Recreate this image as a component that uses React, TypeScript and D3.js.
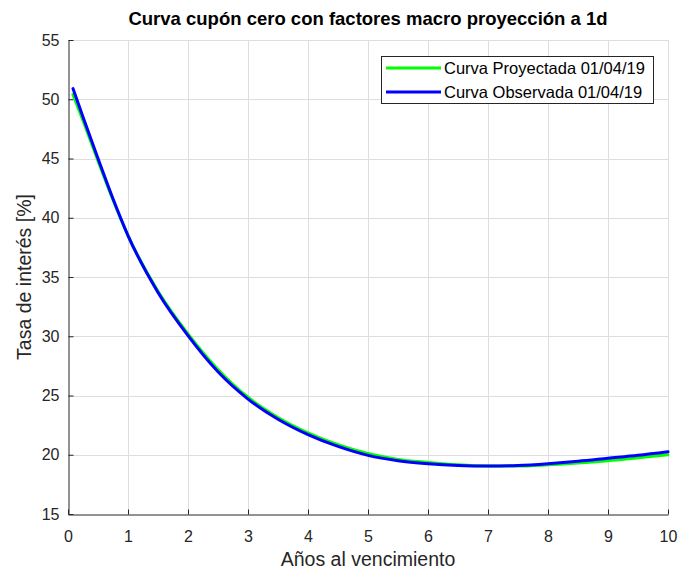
import React, { useEffect, useRef } from "react";
import * as d3 from "d3";

// Zero-coupon curves
const maturities = [0.083, 0.25, 0.5, 0.75, 1, 1.5, 2, 2.5, 3, 3.5, 4, 4.5, 5, 5.5, 6, 6.5, 7, 7.5, 8, 8.5, 9, 9.5, 10];
const projected = [50.4, 48.2, 44.8, 41.5, 38.5, 33.8, 30.2, 27.2, 24.85, 23.15, 21.85, 20.85, 20.1, 19.6, 19.35, 19.15, 19.05, 19.05, 19.15, 19.3, 19.5, 19.75, 20.0];
const observed = [50.9, 48.5, 45.0, 41.6, 38.5, 33.7, 30.05, 27.0, 24.7, 23.0, 21.7, 20.7, 19.95, 19.5, 19.25, 19.1, 19.05, 19.1, 19.25, 19.45, 19.7, 19.95, 20.25];

const seriesNames = ["Curva Proyectada 01/04/19", "Curva Observada 01/04/19"];
const seriesColors = ["#00ff00", "#0000ff"];
const xTicks = [0, 1, 2, 3, 4, 5, 6, 7, 8, 9, 10];
const yTicks = [15, 20, 25, 30, 35, 40, 45, 50, 55];

const title = "Curva cupón cero con factores macro proyección a 1d";
const xLabel = "Años al vencimiento";
const yLabel = "Tasa de interés [%]";

const App = () => {
  const ref = useRef<SVGSVGElement>(null);

  useEffect(() => {
    const width = 680;
    const height = 569;
    const marginTop = 40;
    const marginRight = 12;
    const marginBottom = 55;
    const marginLeft = 68;
    const font = "'Liberation Sans', Arial, sans-serif";
    const axisColor = "#262626";

    const x = d3.scaleLinear().domain([0, 10]).range([marginLeft, width - marginRight]);
    const y = d3.scaleLinear().domain([15, 55]).range([height - marginBottom, marginTop]);

    const svg = d3.select(ref.current);
    svg.selectAll("*").remove(); // Clear previous render

    svg.append("rect").attr("width", width).attr("height", height).attr("fill", "#fff");

    // grid
    const grid = svg.append("g").attr("stroke", "#dedede").attr("stroke-width", 1);
    grid
      .selectAll("line.v")
      .data(xTicks.slice(1))
      .join("line")
      .attr("x1", (d) => Math.round(x(d)) + 0.5)
      .attr("x2", (d) => Math.round(x(d)) + 0.5)
      .attr("y1", marginTop)
      .attr("y2", height - marginBottom);
    grid
      .selectAll("line.h")
      .data(yTicks.slice(1))
      .join("line")
      .attr("y1", (d) => Math.round(y(d)) + 0.5)
      .attr("y2", (d) => Math.round(y(d)) + 0.5)
      .attr("x1", marginLeft)
      .attr("x2", width - marginRight);

    // x-axis (ticks pointing inward)
    svg
      .append("g")
      .attr("transform", `translate(0,${Math.round(height - marginBottom) + 0.5})`)
      .call(d3.axisBottom(x).tickValues(xTicks).tickSize(-5).tickPadding(16).tickSizeOuter(0))
      .call((g) => g.select(".domain").attr("stroke", axisColor))
      .call((g) => g.selectAll(".tick line").attr("stroke", axisColor))
      .call((g) =>
        g.selectAll(".tick text").attr("fill", axisColor).attr("font-size", 16).attr("font-family", font).attr("dy", "0.71em")
      );

    // y-axis
    svg
      .append("g")
      .attr("transform", `translate(${marginLeft + 0.5},0)`)
      .call(d3.axisLeft(y).tickValues(yTicks).tickSize(-5).tickPadding(9).tickSizeOuter(0))
      .call((g) => g.select(".domain").attr("stroke", axisColor))
      .call((g) => g.selectAll(".tick line").attr("stroke", axisColor))
      .call((g) => g.selectAll(".tick text").attr("fill", axisColor).attr("font-size", 16).attr("font-family", font));

    // curves
    const line = d3
      .line<number>()
      .x((_, i) => x(maturities[i]))
      .y((d) => y(d))
      .curve(d3.curveMonotoneX);

    [projected, observed].forEach((values, i) => {
      svg
        .append("path")
        .datum(values)
        .attr("fill", "none")
        .attr("stroke", seriesColors[i])
        .attr("stroke-width", 3)
        .attr("stroke-linecap", "round")
        .attr("d", line);
    });

    // title and labels
    svg
      .append("text")
      .attr("x", (marginLeft + width - marginRight) / 2)
      .attr("y", 25)
      .attr("text-anchor", "middle")
      .attr("font-family", font)
      .attr("font-weight", "bold")
      .attr("font-size", 18.5)
      .attr("fill", "#000")
      .text(title);

    svg
      .append("text")
      .attr("x", (marginLeft + width - marginRight) / 2)
      .attr("y", 566)
      .attr("text-anchor", "middle")
      .attr("font-family", font)
      .attr("font-size", 19.5)
      .attr("fill", axisColor)
      .text(xLabel);

    svg
      .append("text")
      .attr("transform", `translate(31,${(marginTop + height - marginBottom) / 2}) rotate(-90)`)
      .attr("text-anchor", "middle")
      .attr("font-family", font)
      .attr("font-size", 19.5)
      .attr("fill", axisColor)
      .text(yLabel);

    // legend
    const legend = svg.append("g").attr("transform", "translate(381,56)");
    legend
      .append("rect")
      .attr("x", 0.5)
      .attr("y", 0.5)
      .attr("width", 272)
      .attr("height", 47)
      .attr("fill", "#fff")
      .attr("stroke", axisColor)
      .attr("stroke-width", 1);
    seriesNames.forEach((name, i) => {
      const cy = 12 + i * 24;
      legend
        .append("line")
        .attr("x1", 5)
        .attr("x2", 60)
        .attr("y1", cy)
        .attr("y2", cy)
        .attr("stroke", seriesColors[i])
        .attr("stroke-width", 3);
      legend
        .append("text")
        .attr("x", 63)
        .attr("y", cy)
        .attr("dy", "0.35em")
        .attr("font-family", font)
        .attr("font-size", 16.5)
        .attr("fill", "#000")
        .text(name);
    });
  }, []);

  return (
    <svg
      ref={ref}
      width={680}
      height={569}
      viewBox="0 0 680 569"
      style={{ position: "absolute", left: 0, top: 0, display: "block" }}
    ></svg>
  );
};

export default App;
